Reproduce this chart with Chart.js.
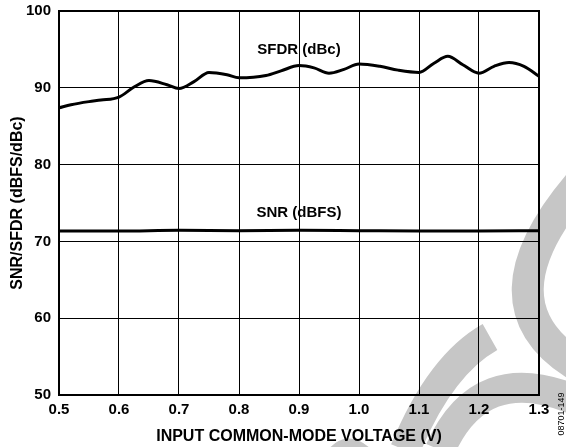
<!DOCTYPE html>
<html lang="en">
<head>
    <meta charset="UTF-8">
    <title>SNR/SFDR vs Input Common-Mode Voltage</title>
    <style>
        body { margin: 0; background: #fff; }
        #wrap { position: relative; width: 566px; height: 447px; }
    </style>
</head>
<body>
    <div id="wrap">
        <canvas id="myChart" width="566" height="447"></canvas>
    </div>
</body>
<script src="https://cdn.jsdelivr.net/npm/chart.js@4.4.0/dist/chart.umd.min.js"></script>
<script>
    // values
    var sfdrX = [0.5, 0.52, 0.55, 0.57, 0.6, 0.625, 0.65, 0.68, 0.7, 0.725, 0.75, 0.78, 0.8, 0.845, 0.87, 0.9, 0.925, 0.95, 0.975, 1.0, 1.035, 1.065, 1.1, 1.125, 1.148, 1.173, 1.2, 1.225, 1.25, 1.275, 1.3];
    var sfdrY = [87.4, 87.8, 88.2, 88.4, 88.8, 90.1, 90.95, 90.4, 89.9, 90.8, 92.0, 91.7, 91.3, 91.6, 92.2, 92.9, 92.6, 91.9, 92.4, 93.1, 92.8, 92.3, 92.0, 93.2, 94.1, 93.0, 91.9, 92.8, 93.3, 92.8, 91.5];
    var snrX = [0.5, 0.6, 0.7, 0.8, 0.9, 1.0, 1.1, 1.2, 1.3];
    var snrY = [71.35, 71.35, 71.45, 71.4, 71.45, 71.4, 71.35, 71.35, 71.4];
    var xTicks = [0.5, 0.6, 0.7, 0.8, 0.9, 1.0, 1.1, 1.2, 1.3];
    var yTicks = [50, 60, 70, 80, 90, 100];
    var seriesNames = ["SFDR (dBc)", "SNR (dBFS)"];
    var labelPos = [[0.9, 95.0], [0.9, 73.7]];

    function pts(xs, ys) {
        return xs.map(function(x, i) { return {x: x, y: ys[i]}; });
    }

    var fontFam = "'Liberation Sans', Arial, sans-serif";

    // grey logo in the background
    var watermark = {
        id: 'watermark',
        beforeDraw: function(chart) {
            var c = chart.ctx;
            c.save();
            c.strokeStyle = '#c6c6c6';
            c.lineWidth = 32;
            c.lineCap = 'butt';
            c.beginPath();
            c.moveTo(590, 172);
            c.quadraticCurveTo(468, 305, 585, 370);
            c.stroke();
            c.lineWidth = 30;
            c.beginPath();
            c.moveTo(490, 337);
            c.quadraticCurveTo(440, 365, 405, 450);
            c.stroke();
            c.beginPath();
            c.moveTo(440, 450);
            c.quadraticCurveTo(480, 360, 575, 400);
            c.stroke();
            c.lineWidth = 14;
            c.beginPath();
            c.moveTo(332, 456);
            c.quadraticCurveTo(347, 436, 366, 454);
            c.stroke();
            c.restore();
        }
    };

    var extras = {
        id: 'extras',
        beforeDatasetsDraw: function(chart) {
            var a = chart.chartArea, c = chart.ctx;
            c.save();
            c.strokeStyle = '#000';
            c.lineWidth = 2;
            c.strokeRect(a.left, a.top, a.right - a.left, a.bottom - a.top);
            c.restore();
        },
        afterDatasetsDraw: function(chart) {
            var c = chart.ctx;
            var xs = chart.scales.x, ys = chart.scales.y;
            c.save();
            c.fillStyle = '#000';
            c.font = 'bold 15px ' + fontFam;
            c.textAlign = 'center';
            c.textBaseline = 'middle';
            seriesNames.forEach(function(n, i) {
                c.fillText(n, xs.getPixelForValue(labelPos[i][0]), ys.getPixelForValue(labelPos[i][1]));
            });
            c.font = '9px ' + fontFam;
            c.translate(562, 414);
            c.rotate(-Math.PI / 2);
            c.fillText('08701-149', 0, 0);
            c.restore();
        }
    };

    var ctx = document.getElementById('myChart').getContext('2d');
    var myChart = new Chart(ctx, {
        type: 'line',
        data: {
            datasets: [{
                label: seriesNames[0],
                data: pts(sfdrX, sfdrY),
                borderColor: '#000',
                borderWidth: 3,
                pointRadius: 0,
                cubicInterpolationMode: 'monotone'
            }, {
                label: seriesNames[1],
                data: pts(snrX, snrY),
                borderColor: '#000',
                borderWidth: 3,
                pointRadius: 0,
                cubicInterpolationMode: 'monotone'
            }]
        },
        options: {
            responsive: false,
            animation: false,
            layout: { padding: { top: 11, right: 27, left: 0, bottom: 0 } },
            plugins: { legend: { display: false }, tooltip: { enabled: false } },
            scales: {
                x: {
                    type: 'linear',
                    min: 0.5,
                    max: 1.3,
                    afterBuildTicks: function(s) { s.ticks = xTicks.map(function(v) { return {value: v}; }); },
                    afterFit: function(s) { s.height = 52; s.paddingLeft = 0; s.paddingRight = 0; },
                    grid: { color: '#000', lineWidth: 1, drawTicks: false },
                    border: { display: false },
                    ticks: {
                        color: '#000',
                        padding: 6,
                        maxRotation: 0,
                        font: { family: fontFam, size: 15, weight: 'bold' },
                        callback: function(v) { return v.toFixed(1); }
                    },
                    title: {
                        display: true,
                        text: 'INPUT COMMON-MODE VOLTAGE (V)',
                        color: '#000',
                        padding: { top: 0, bottom: 1 },
                        font: { family: fontFam, size: 16, weight: 'bold' }
                    }
                },
                y: {
                    min: 50,
                    max: 100,
                    afterBuildTicks: function(s) { s.ticks = yTicks.map(function(v) { return {value: v}; }); },
                    afterFit: function(s) { s.width = 59; s.paddingTop = 0; s.paddingBottom = 0; },
                    grid: { color: '#000', lineWidth: 1, drawTicks: false },
                    border: { display: false },
                    ticks: {
                        color: '#000',
                        padding: 8,
                        font: { family: fontFam, size: 15, weight: 'bold' }
                    },
                    title: {
                        display: true,
                        text: 'SNR/SFDR (dBFS/dBc)',
                        color: '#000',
                        padding: { top: 8, bottom: 0 },
                        font: { family: fontFam, size: 16, weight: 'bold' }
                    }
                }
            }
        },
        plugins: [watermark, extras]
    });
</script>
</html>
